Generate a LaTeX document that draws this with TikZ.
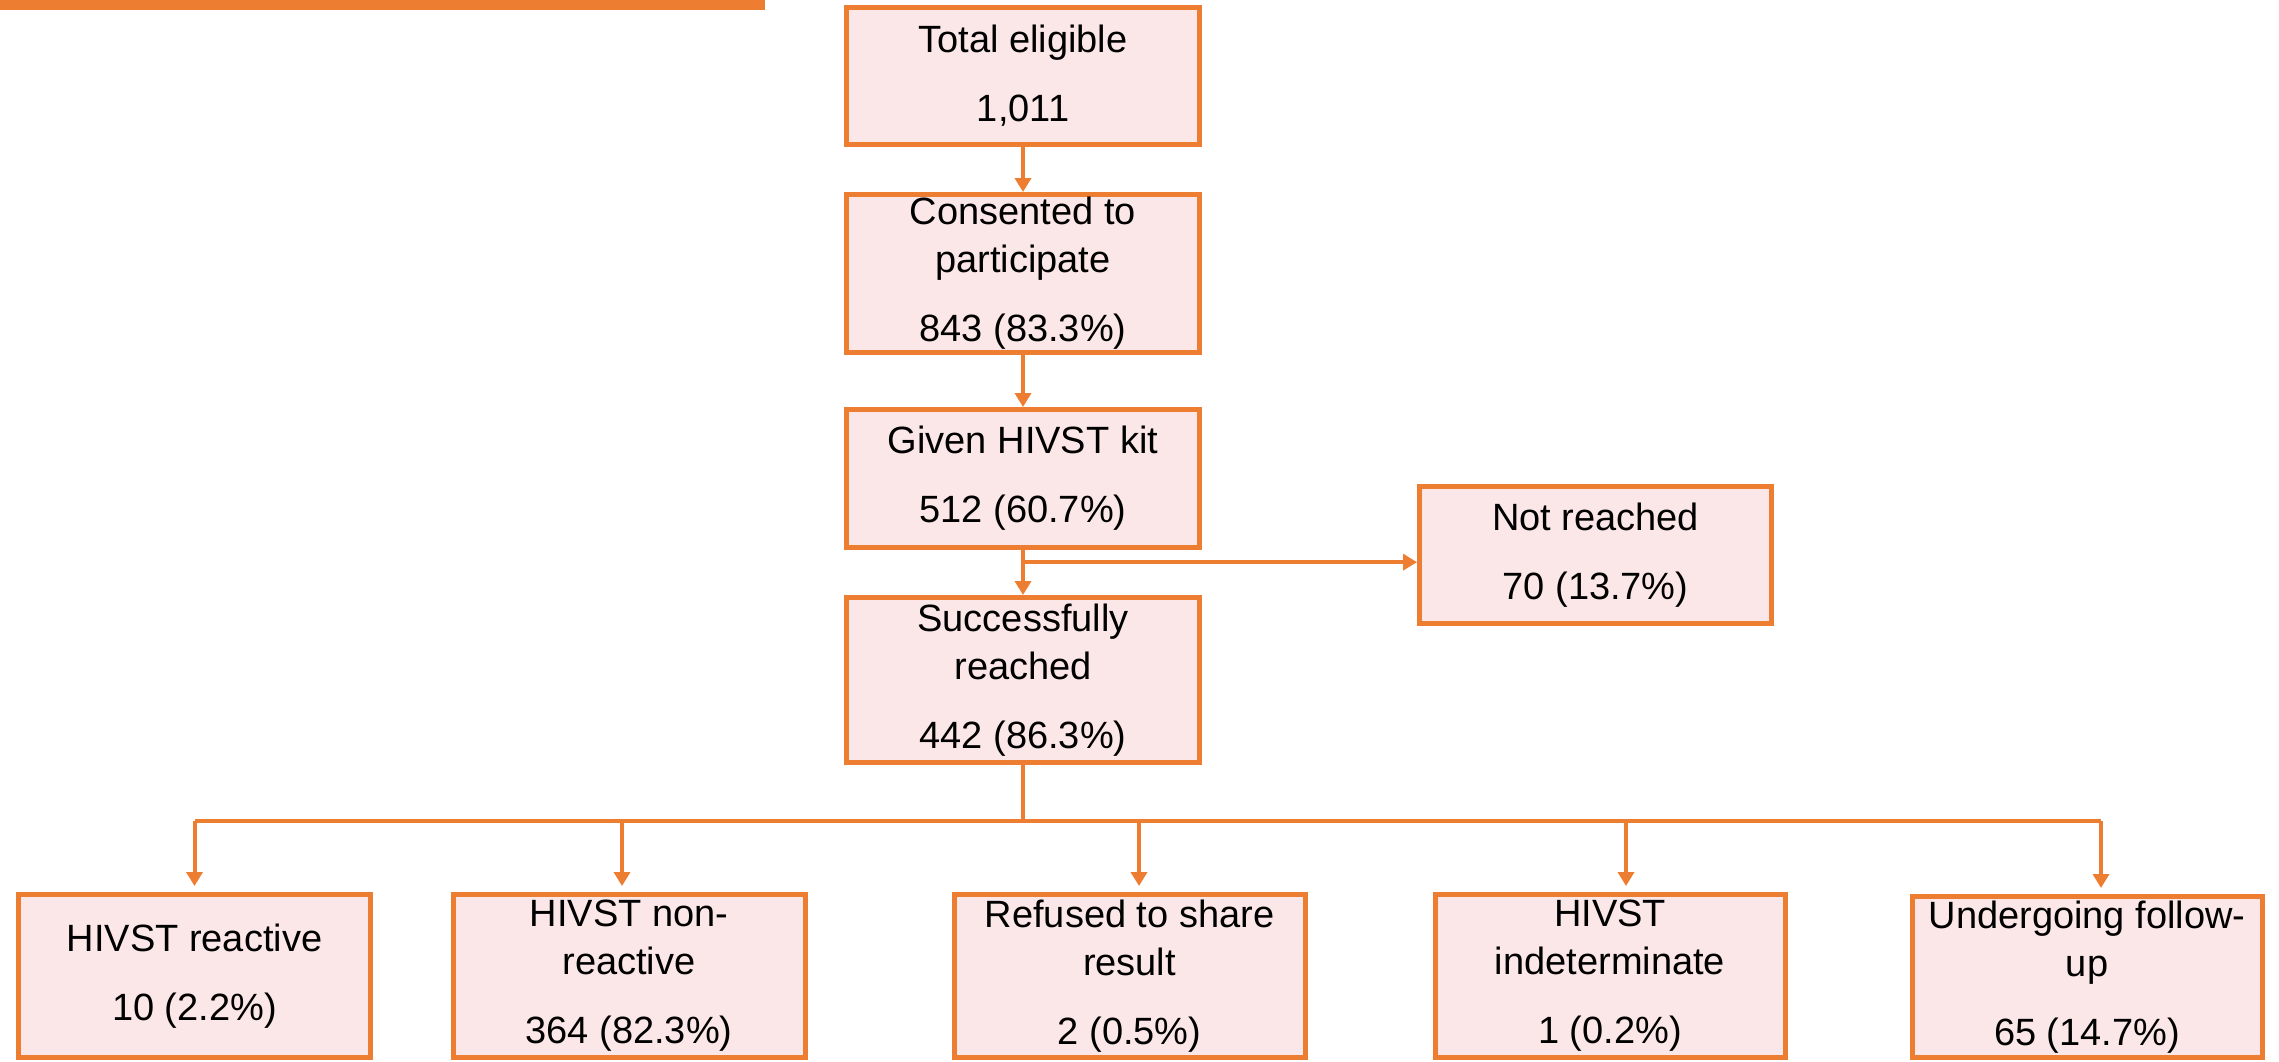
\documentclass[tikz,border=0pt]{standalone}
\usepackage{fontspec}
\setmainfont{Liberation Sans}
\usetikzlibrary{calc,arrows.meta}
\definecolor{boxorange}{RGB}{237,125,49}
\definecolor{boxpink}{RGB}{252,231,232}
\tikzset{
  flowbox/.style={draw=boxorange, line width=2.5pt, fill=boxpink, inner sep=0pt,
    align=center, minimum width=176.5pt, font=\fontsize{19}{24}\selectfont},
  flowline/.style={draw=boxorange, line width=2pt},
  flowarrow/.style={flowline, -{Triangle[length=7pt,width=8pt]}}
}
\begin{document}
\begin{tikzpicture}[x=0.5pt,y=-0.5pt]
			\useasboundingbox (0,0) rectangle (2279,1061);
			\fill[boxorange] (0,0) rectangle (765,10);
			% main column
			\node[flowbox, minimum height=68.5pt] (total) at (1023,76) {Total eligible\\[10.5pt]1,011};
			\node[flowbox, minimum height=79pt] (consent) at (1023,273.5) {Consented to\\participate\\[10.5pt]843 (83.3\%)};
			\node[flowbox, minimum height=69pt] (given) at (1023,478.5) {Given HIVST kit\\[10.5pt]512 (60.7\%)};
			\node[flowbox, minimum height=82.5pt] (reached) at (1023,680) {Successfully\\reached\\[10.5pt]442 (86.3\%)};
			\node[flowbox, minimum height=68.5pt, minimum width=176pt] (notreached) at (1595.5,555) {Not reached\\[10.5pt]70 (13.7\%)};
			% outcomes
			\node[flowbox, minimum height=81.5pt, minimum width=176pt] (reactive) at (194.5,976) {HIVST reactive\\[10.5pt]10 (2.2\%)};
			\node[flowbox, minimum height=81.5pt, minimum width=176pt] (nonreact) at (629,976) {HIVST non-\\reactive\\[10.5pt]364 (82.3\%)};
			\node[flowbox, minimum height=81.5pt, minimum width=175.5pt] (refused) at (1129.5,976) {Refused to share\\result\\[10.5pt]2 (0.5\%)};
			\node[flowbox, minimum height=81.5pt, minimum width=175pt] (indet) at (1610,976) {HIVST\\indeterminate\\[10.5pt]1 (0.2\%)};
			\node[flowbox, minimum height=80.5pt, minimum width=175pt] (followup) at (2087,977) {Undergoing follow-\\up\\[10.5pt]65 (14.7\%)};
			% connectors
			\draw[flowarrow] (total.south) -- (consent.north);
			\draw[flowarrow] (consent.south) -- (given.north);
			\draw[flowarrow] (given.south) -- (reached.north);
			\coordinate (split) at ($(given.south)!0.27!(reached.north)$);
			\draw[flowarrow] (split) -- (split -| notreached.west);
			\coordinate (bus) at ($(reached.south)+(0,56)$);
			\draw[flowline] (reached.south) -- (bus);
			\draw[flowline] (reactive.north |- bus) -- ($(followup.north |- bus)+(14,0)$);
			\foreach \b/\dx in {reactive/0, nonreact/-7, refused/9.5, indet/16, followup/14}
				\draw[flowarrow, shorten >=3pt] ($(\b.north |- bus)+(\dx,0)$) -- ($(\b.north)+(\dx,0)$);
\end{tikzpicture}
\end{document}
